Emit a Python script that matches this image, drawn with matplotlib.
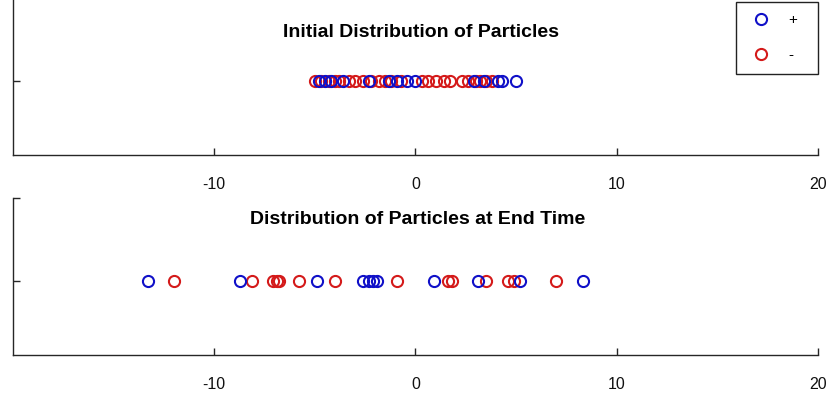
import numpy as np
import matplotlib.pyplot as plt
from matplotlib.lines import Line2D

# initial positions
init_pos = [-4.8, -4.5, -4.2, -3.6, -2.3, -1.3, -0.9, -0.4, 0.0, 2.9, 3.4, 4.1, 4.3, 5.0]
init_neg = [-5.0, -4.7, -4.3, -4.0, -3.8, -3.3, -3.0, -2.6, -2.2, -1.8, -1.5, -1.2,
            -0.7, 0.3, 0.6, 1.0, 1.4, 1.7, 2.3, 2.6, 3.0, 3.2, 3.5, 3.8]

# positions at end time
end_pos = [-13.3, -8.7, -4.9, -2.6, -2.3, -2.1, -1.9, 0.9, 3.1, 5.2, 8.3]
end_neg = [-12.0, -8.1, -7.1, -6.9, -6.8, -5.8, -4.0, -0.9, 1.6, 1.8, 3.5, 4.6, 4.9, 7.0]

xticks = [-10, 0, 10, 20]
blue = '#1010c8'
red = '#d41a1a'
axcol = '#262626'
msize = 8
mew = 1.5

plt.rcParams['font.family'] = ['Liberation Sans', 'DejaVu Sans']

fig = plt.figure(figsize=(8.29, 3.94), dpi=100, facecolor='white')
ax1 = fig.add_axes([13/829, 0.6066, 805/829, 157/394])
ax2 = fig.add_axes([13/829, 39/394, 805/829, 157/394])


def style(ax):
    ax.set_xlim(-20, 20)
    ax.set_ylim(-0.89, 1)
    ax.set_xticks(xticks)
    ax.set_xticklabels([str(t) for t in xticks])
    ax.set_yticks([0, 1])
    ax.set_yticklabels([])
    for s in ['top', 'right']:
        ax.spines[s].set_visible(False)
    for s in ['left', 'bottom']:
        ax.spines[s].set_color(axcol)
        ax.spines[s].set_linewidth(1.0)
    ax.tick_params(axis='both', direction='in', length=5, width=1.0, color=axcol,
                   labelsize=11.5, labelcolor='#111111')
    ax.tick_params(axis='x', pad=16)
    ax.patch.set_alpha(0)


def draw(ax, pos, neg):
    mk = dict(linestyle='None', marker='o', markersize=msize, markerfacecolor='none',
              markeredgewidth=mew, clip_on=False)
    ax.plot(neg, np.zeros(len(neg)), markeredgecolor=red, **mk)
    ax.plot(pos, np.zeros(len(pos)), markeredgecolor=blue, **mk)


draw(ax1, init_pos, init_neg)
draw(ax2, end_pos, end_neg)
style(ax1)
style(ax2)

ax1.text(0.507, 0.783, 'Initial Distribution of Particles', transform=ax1.transAxes,
         ha='center', va='center', fontsize=14, fontweight='bold')
ax2.text(0.503, 0.86, 'Distribution of Particles at End Time', transform=ax2.transAxes,
         ha='center', va='center', fontsize=14, fontweight='bold')

handles = [Line2D([], [], linestyle='None', marker='o', markersize=msize, markerfacecolor='none',
                  markeredgewidth=mew, markeredgecolor=blue),
           Line2D([], [], linestyle='None', marker='o', markersize=msize, markerfacecolor='none',
                  markeredgewidth=mew, markeredgecolor=red)]
leg = ax1.legend(handles, ['+  ', '-  '], loc='upper right', bbox_to_anchor=(818/829, 392/394),
                 bbox_transform=fig.transFigure,
                 frameon=True, fancybox=False, edgecolor='#222222', framealpha=1,
                 fontsize=11, handlelength=1.74, handletextpad=1.0, labelspacing=1.35,
                 borderpad=0.75, borderaxespad=0)
leg.get_frame().set_linewidth(1.0)

fig.savefig('out.png', dpi=100)
